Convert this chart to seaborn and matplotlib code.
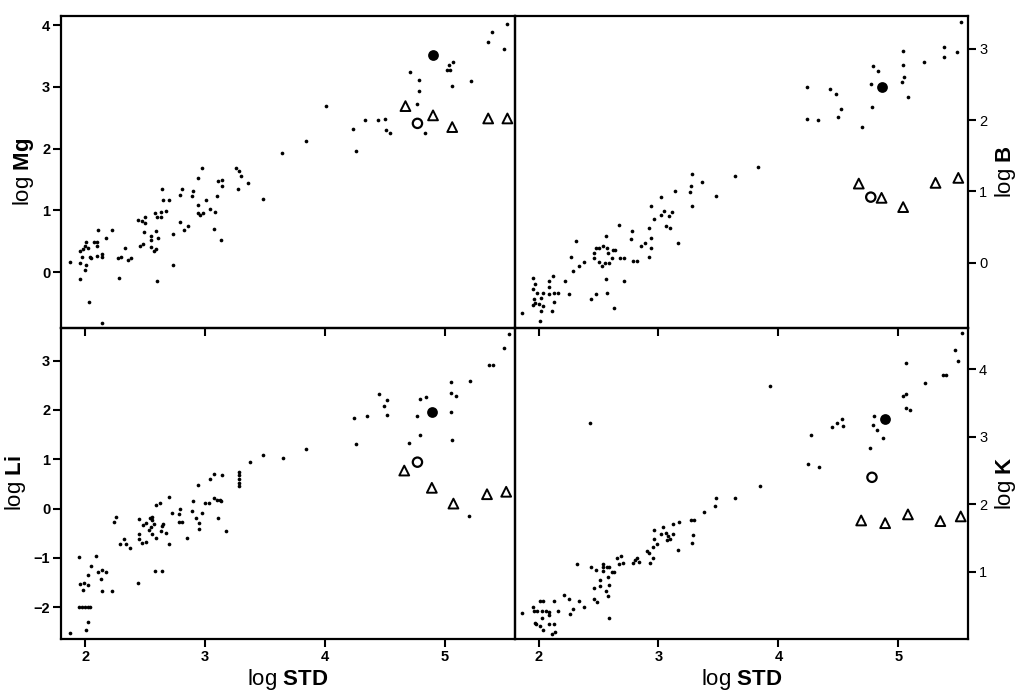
import pandas as pd
import matplotlib
matplotlib.use("Agg")
import matplotlib.pyplot as plt
import seaborn as sns

# ---- data (log STD vs log element) ----
# small dots, one pair of lists per panel
mg_x = [1.87, 1.96, 1.98, 1.97, 1.96, 1.96, 2.00, 2.01, 2.02, 2.00, 2.01, 2.03, 2.04, 2.05, 2.07,
        2.10, 2.11, 2.10, 2.10, 2.14, 2.14, 2.14, 2.17, 2.22, 2.27, 2.28, 2.30, 2.33, 2.36, 2.38,
        2.44, 2.47, 2.50, 2.50, 2.49, 2.46, 2.48, 2.55, 2.55, 2.55, 2.57, 2.59, 2.60, 2.59, 2.61,
        2.58, 2.60, 2.63, 2.64, 2.65, 2.67, 2.70, 2.63, 2.73, 2.73, 2.79, 2.81, 2.79, 2.82, 2.86,
        2.89, 2.90, 2.94, 2.94, 2.94, 2.96, 2.98, 2.97, 3.01, 3.04, 3.08, 3.10, 3.07, 3.11, 3.14,
        3.14, 3.13, 3.26, 3.28, 3.30, 3.27, 3.36, 3.48, 3.64, 3.84, 4.01, 4.23, 4.26, 4.33, 4.44,
        4.50, 4.51, 4.54, 4.71, 4.78, 4.78, 4.77, 4.83, 5.03, 5.04, 5.07, 5.06, 5.02, 5.22, 5.36,
        5.39, 5.49, 5.52]
mg_y = [0.17, 0.34, 0.38, 0.24, 0.14, -0.12, 0.42, 0.49, 0.39, 0.04, 0.12, -0.48, 0.24, 0.22, 0.48,
        0.48, 0.68, 0.43, 0.26, 0.30, 0.24, -0.82, 0.56, 0.68, 0.23, -0.10, 0.24, 0.39, 0.20, 0.23,
        0.84, 0.82, 0.89, 0.79, 0.65, 0.42, 0.45, 0.59, 0.52, 0.41, 0.34, 0.38, -0.14, 0.66, 0.56,
        0.96, 0.89, 0.89, 1.35, 1.16, 0.99, 1.16, 0.98, 0.62, 0.12, 1.25, 1.34, 0.81, 0.68, 0.75,
        1.24, 1.31, 1.52, 1.08, 0.96, 0.92, 0.96, 1.69, 1.16, 1.03, 0.98, 1.23, 0.70, 1.47, 1.49,
        1.40, 0.52, 1.69, 1.64, 1.56, 1.34, 1.45, 1.18, 1.93, 2.12, 2.69, 2.32, 1.96, 2.47, 2.47,
        2.48, 2.31, 2.26, 3.25, 3.11, 2.94, 2.72, 2.26, 3.36, 3.28, 3.41, 3.02, 3.28, 3.10, 3.73,
        3.89, 3.62, 4.02]

b_x = [1.86, 1.95, 1.97, 1.95, 1.96, 1.95, 1.97, 1.99, 2.00, 2.02, 2.02, 2.04, 2.04, 2.01, 2.09,
       2.09, 2.09, 2.12, 2.13, 2.11, 2.13, 2.16, 2.22, 2.25, 2.27, 2.29, 2.31, 2.34, 2.38, 2.44,
       2.48, 2.46, 2.46, 2.48, 2.50, 2.50, 2.53, 2.54, 2.56, 2.57, 2.55, 2.56, 2.57, 2.58, 2.59,
       2.61, 2.62, 2.64, 2.63, 2.67, 2.68, 2.71, 2.71, 2.77, 2.78, 2.79, 2.82, 2.85, 2.89, 2.92,
       2.92, 2.94, 2.94, 2.94, 2.96, 3.02, 3.02, 3.05, 3.06, 3.09, 3.11, 3.10, 3.16, 3.14, 3.26,
       3.27, 3.28, 3.28, 3.36, 3.48, 3.64, 3.83, 4.24, 4.24, 4.33, 4.43, 4.48, 4.52, 4.50, 4.70,
       4.77, 4.79, 4.83, 4.78, 5.03, 5.04, 5.04, 5.05, 5.08, 5.21, 5.38, 5.38, 5.49, 5.52]
b_y = [-0.71, -0.21, -0.30, -0.37, -0.51, -0.60, -0.56, -0.42, -0.58, -0.49, -0.68, -0.43, -0.61, -0.82, -0.25,
       -0.34, -0.44, -0.19, -0.55, -0.68, -0.42, -0.42, -0.26, -0.44, 0.08, -0.11, 0.30, -0.04, 0.01, -0.51,
       -0.44, 0.07, 0.14, 0.20, 0.21, 0.01, -0.05, 0.23, 0.37, 0.21, -0.01, -0.23, -0.43, 0.13, 0.00,
       0.07, 0.18, 0.18, -0.64, 0.53, 0.07, 0.07, -0.25, 0.33, 0.44, 0.03, 0.03, 0.24, 0.28, 0.08,
       0.48, 0.35, 0.20, 0.80, 0.62, 0.92, 0.67, 0.73, 0.51, 0.66, 0.71, 0.48, 0.28, 1.00, 0.99,
       1.08, 1.24, 0.79, 1.13, 0.93, 1.21, 1.34, 2.47, 2.02, 2.00, 2.44, 2.37, 2.15, 2.04, 1.91,
       2.51, 2.76, 2.69, 2.19, 2.54, 2.97, 2.78, 2.60, 2.33, 2.81, 3.02, 2.88, 2.95, 3.38]

li_x = [1.87, 1.95, 1.96, 1.98, 1.99, 2.02, 1.95, 1.97, 2.00, 2.02, 2.04, 2.02, 2.01, 2.02, 2.05,
        2.09, 2.11, 2.13, 2.14, 2.17, 2.14, 2.22, 2.24, 2.26, 2.29, 2.32, 2.34, 2.37, 2.44, 2.45,
        2.45, 2.45, 2.47, 2.48, 2.51, 2.51, 2.53, 2.54, 2.55, 2.56, 2.56, 2.56, 2.57, 2.59, 2.58,
        2.64, 2.59, 2.62, 2.63, 2.64, 2.65, 2.67, 2.70, 2.70, 2.72, 2.78, 2.79, 2.78, 2.81, 2.85,
        2.89, 2.90, 2.92, 2.94, 2.95, 2.95, 2.97, 3.00, 3.03, 3.04, 3.07, 3.07, 3.10, 3.12, 3.13,
        3.11, 3.14, 3.17, 3.28, 3.28, 3.28, 3.28, 3.28, 3.37, 3.48, 3.65, 3.84, 4.24, 4.26, 4.35,
        4.45, 4.49, 4.52, 4.52, 4.70, 4.77, 4.79, 4.84, 4.79, 5.05, 5.05, 5.05, 5.09, 5.06, 5.20,
        5.21, 5.37, 5.40, 5.49, 5.53]
li_y = [-2.53, -0.98, -1.54, -1.65, -1.52, -1.55, -2.00, -2.00, -2.00, -2.00, -2.00, -2.31, -2.47, -1.35, -1.17,
        -0.96, -1.28, -1.42, -1.25, -1.28, -1.68, -1.68, -0.27, -0.17, -0.72, -0.62, -0.72, -0.80, -1.52, -0.22,
        -0.51, -0.61, -0.69, -0.34, -0.67, -0.29, -0.44, -0.20, -0.37, -0.24, -0.17, -0.51, -0.32, -0.59, -1.26,
        -1.26, 0.08, 0.11, -0.46, -0.36, -0.32, -0.49, 0.24, -0.72, -0.09, -0.12, 0.00, -0.28, -0.28, -0.59,
        -0.05, 0.15, -0.20, 0.47, -0.30, -0.42, -0.10, 0.11, 0.11, 0.59, 0.69, 0.22, 0.18, 0.17, 0.15,
        -0.19, 0.67, -0.45, 0.74, 0.67, 0.59, 0.52, 0.46, 0.94, 1.08, 1.02, 1.20, 1.83, 1.31, 1.87,
        2.32, 2.07, 2.21, 1.90, 1.33, 1.87, 2.22, 2.27, 1.50, 2.56, 1.95, 2.35, 2.28, 1.38, -0.15,
        2.59, 2.91, 2.91, 3.25, 3.54]

k_x = [1.86, 1.95, 1.96, 1.99, 2.01, 2.04, 2.03, 2.06, 2.09, 2.09, 2.13, 2.16, 1.97, 1.98, 2.01,
       2.03, 2.04, 2.09, 2.13, 2.11, 2.14, 2.21, 2.25, 2.26, 2.29, 2.32, 2.34, 2.38, 2.43, 2.44,
       2.46, 2.46, 2.48, 2.49, 2.51, 2.51, 2.54, 2.54, 2.54, 2.57, 2.59, 2.56, 2.58, 2.59, 2.58,
       2.59, 2.61, 2.63, 2.65, 2.67, 2.69, 2.70, 2.79, 2.80, 2.82, 2.84, 2.90, 2.92, 2.93, 2.95,
       2.95, 2.96, 2.96, 2.99, 3.02, 3.04, 3.06, 3.08, 3.10, 3.07, 3.12, 3.12, 3.16, 3.17, 3.27,
       3.30, 3.29, 3.28, 3.38, 3.47, 3.48, 3.64, 3.85, 3.93, 4.25, 4.27, 4.34, 4.45, 4.49, 4.53,
       4.54, 4.76, 4.79, 4.80, 4.82, 4.87, 5.04, 5.06, 5.06, 5.10, 5.06, 5.22, 5.37, 5.40, 5.50,
       5.53, 5.47]
k_y = [0.39, 0.47, 0.42, 0.41, 0.56, 0.56, 0.41, 0.41, 0.40, 0.36, 0.56, 0.41, 0.24, 0.22, 0.19,
       0.31, 0.13, 0.22, 0.22, 0.07, 0.10, 0.66, 0.60, 0.37, 0.44, 1.12, 0.56, 0.48, 3.21, 1.07,
       0.76, 0.59, 1.02, 0.55, 0.87, 0.79, 1.11, 1.07, 1.01, 1.07, 1.07, 0.72, 0.92, 0.81, 0.64,
       0.31, 0.99, 1.00, 1.21, 1.12, 1.23, 1.13, 1.13, 1.18, 1.21, 1.15, 1.31, 1.28, 1.13, 1.36,
       1.21, 1.48, 1.62, 1.41, 1.56, 1.66, 1.58, 1.53, 1.48, 1.47, 1.56, 1.71, 1.32, 1.74, 1.77,
       1.77, 1.54, 1.43, 1.89, 1.98, 2.10, 2.09, 2.27, 3.75, 2.60, 3.02, 2.56, 3.15, 3.21, 3.27,
       3.16, 2.84, 3.17, 3.31, 3.10, 2.98, 3.60, 3.64, 3.43, 3.40, 4.09, 3.80, 3.92, 3.92, 4.13,
       4.54, 4.29]

# highlighted samples: filled circle, open circle, open triangles
mg_full = (4.90, 3.52)
mg_open = (4.77, 2.41)
mg_tri_x = [4.67, 4.90, 5.06, 5.36, 5.52]
mg_tri_y = [2.69, 2.54, 2.35, 2.49, 2.49]

b_full = (4.86, 2.46)
b_open = (4.77, 0.92)
b_tri_x = [4.67, 4.86, 5.04, 5.31, 5.50]
b_tri_y = [1.11, 0.91, 0.78, 1.12, 1.19]

li_full = (4.89, 1.95)
li_open = (4.77, 0.94)
li_tri_x = [4.66, 4.89, 5.07, 5.35, 5.51]
li_tri_y = [0.77, 0.42, 0.10, 0.29, 0.34]

k_full = (4.89, 3.26)
k_open = (4.78, 2.40)
k_tri_x = [4.69, 4.89, 5.08, 5.35, 5.52]
k_tri_y = [1.76, 1.72, 1.85, 1.75, 1.82]

sns.set_style("ticks")
plt.rcParams["font.family"] = ["Liberation Sans", "DejaVu Sans"]
plt.rcParams["mathtext.fontset"] = "custom"
plt.rcParams["mathtext.rm"] = "Liberation Sans"
plt.rcParams["mathtext.bf"] = "Liberation Sans:bold"
plt.rcParams["text.color"] = "black"
plt.rcParams["axes.labelcolor"] = "black"

fig, axes = plt.subplots(2, 2, figsize=(10.21, 6.97), dpi=100, sharex=True,
                         gridspec_kw={"hspace": 0, "wspace": 0})
fig.subplots_adjust(left=0.06, right=0.948, top=0.977, bottom=0.083)

panels = [
    (axes[0, 0], mg_x, mg_y, mg_full, mg_open, mg_tri_x, mg_tri_y, "Mg", (-0.9, 4.15), [0, 1, 2, 3, 4], "left"),
    (axes[0, 1], b_x, b_y, b_full, b_open, b_tri_x, b_tri_y, "B", (-0.91, 3.46), [0, 1, 2, 3], "right"),
    (axes[1, 0], li_x, li_y, li_full, li_open, li_tri_x, li_tri_y, "Li", (-2.65, 3.67), [-2, -1, 0, 1, 2, 3], "left"),
    (axes[1, 1], k_x, k_y, k_full, k_open, k_tri_x, k_tri_y, "K", (0.0, 4.62), [1, 2, 3, 4], "right"),
]

for ax, xs, ys, full, opn, tx, ty, elem, ylim, yt, side in panels:
    ax.patch.set_alpha(0)  # let the upper panels' ticks show through
    df = pd.DataFrame({"std": xs, "val": ys})
    sns.scatterplot(data=df, x="std", y="val", ax=ax, color="black", s=7, linewidth=0)
    sns.scatterplot(x=tx, y=ty, ax=ax, marker="^", s=50, facecolor="none",
                    edgecolor="black", linewidth=1.4)
    sns.scatterplot(x=[opn[0]], y=[opn[1]], ax=ax, marker="o", s=45, facecolor="none",
                    edgecolor="black", linewidth=1.6)
    sns.scatterplot(x=[full[0]], y=[full[1]], ax=ax, marker="o", s=60, color="black", linewidth=0)

    ax.set_xlim(1.8, 5.58)
    ax.set_ylim(*ylim)
    ax.set_xticks([2, 3, 4, 5])
    ax.set_yticks(yt)
    for sp in ax.spines.values():
        sp.set_visible(True)
        sp.set_linewidth(1.6)
        sp.set_color("black")
    ax.tick_params(direction="out", length=6, width=1.5, pad=2, labelsize=10.5, colors="black")
    for lab in ax.get_xticklabels() + ax.get_yticklabels():
        lab.set_fontweight("bold")

    ax.set_ylabel(r"log $\mathbf{" + elem + "}$", fontsize=16)
    if side == "right":
        ax.yaxis.tick_right()
        ax.yaxis.set_label_position("right")
    ax.set_xlabel("")

for ax in axes[1]:
    ax.set_xlabel(r"log $\mathbf{STD}$", fontsize=16, labelpad=2)
    for lab in ax.get_xticklabels():
        lab.set_fontweight("bold")
for ax in axes[0]:
    ax.tick_params(labelbottom=False)

fig.savefig("out.png", dpi=100)
